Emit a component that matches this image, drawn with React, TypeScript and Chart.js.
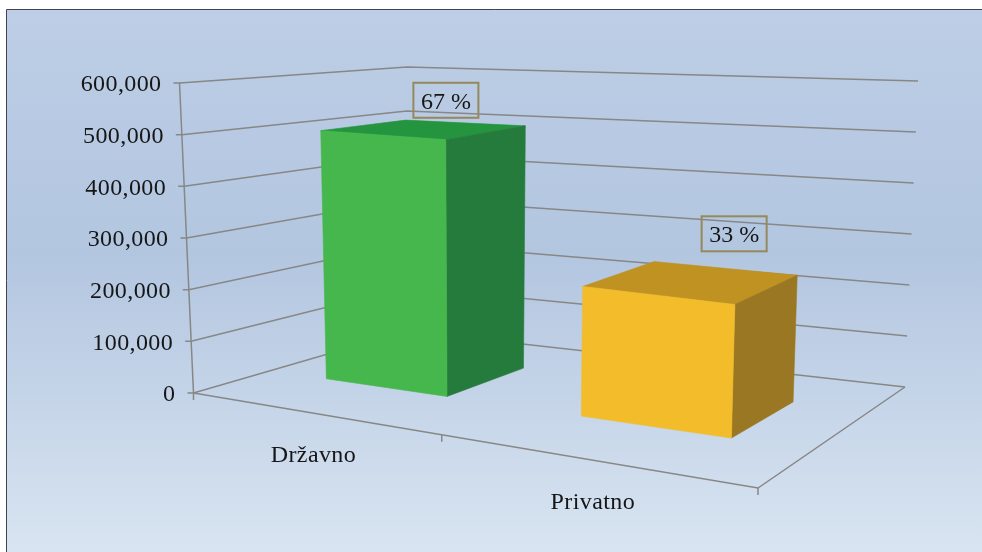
import React, { useEffect, useRef } from "react";
import { Chart, registerables } from "chart.js";

Chart.register(...registerables);

const categories = ["Državno", "Privatno"];
const values = [495000, 242000];
const shares = ["67 %", "33 %"];
const frontColors = ["#45b74c", "#f2bc2a"];
const sideColors = ["#257b3c", "#9a7722"];
const topColors = ["#24953e", "#bf9222"];

type Pt = [number, number];

// Perspective box of the plot: floor corners (front-left, front-right, back-right, back-left)
// and the full-height vector that rises from each of them.
const FLOOR: Pt[] = [[193.5, 393], [758, 488], [905, 387], [407, 331]];
const RISE: Pt[] = [[-14, -310], [10, -350], [13, -306], [0, -264]];
const BAR_DEPTH: Pt = [0.318, 0.708];
const LABEL_SHIFT: Pt[] = [[22, -28], [43, -47]];

function squareMap(q: Pt[]) {
  const [A, B, C, D] = q;
  const dx1 = B[0] - C[0], dx2 = D[0] - C[0], sx = A[0] - B[0] + C[0] - D[0];
  const dy1 = B[1] - C[1], dy2 = D[1] - C[1], sy = A[1] - B[1] + C[1] - D[1];
  const den = dx1 * dy2 - dx2 * dy1;
  const g = (sx * dy2 - dx2 * sy) / den;
  const h = (dx1 * sy - sx * dy1) / den;
  const a = B[0] - A[0] + g * B[0], b = D[0] - A[0] + h * D[0];
  const d = B[1] - A[1] + g * B[1], e = D[1] - A[1] + h * D[1];
  return (u: number, w: number): Pt => {
    const z = g * u + h * w + 1;
    return [(a * u + b * w + A[0]) / z, (d * u + e * w + A[1]) / z];
  };
}
const floorAt = squareMap(FLOOR);

function project(u: number, depth: number, v: number): Pt {
  const f = floorAt(u, depth);
  const [A, B, C, D] = RISE;
  const r = [0, 1].map(
    (k) => (1 - depth) * (A[k] + (B[k] - A[k]) * u) + depth * (D[k] + (C[k] - D[k]) * u)
  );
  return [f[0] + r[0] * v, f[1] + r[1] * v];
}

// From the library's scales to box coordinates
function toU(chart: any, px: number) {
  const a = chart.chartArea;
  const f = (px - a.left) / (a.right - a.left);
  return f + 0.07 * f * (1 - f);
}
function toV(chart: any, py: number) {
  const a = chart.chartArea;
  return (a.bottom - py) / (a.bottom - a.top);
}

function poly(ctx: CanvasRenderingContext2D, pts: Pt[], fill: string) {
  ctx.beginPath();
  pts.forEach((p, i) => (i ? ctx.lineTo(p[0], p[1]) : ctx.moveTo(p[0], p[1])));
  ctx.closePath();
  ctx.fillStyle = fill;
  ctx.fill();
  ctx.strokeStyle = fill;
  ctx.lineWidth = 0.6;
  ctx.stroke();
}
function path(ctx: CanvasRenderingContext2D, pts: Pt[]) {
  ctx.beginPath();
  pts.forEach((p, i) => (i ? ctx.lineTo(p[0], p[1]) : ctx.moveTo(p[0], p[1])));
  ctx.stroke();
}

const FONT = '24px "Liberation Serif", "Times New Roman", serif';
const TEXT = "#161616";
const GRID = "#878787";

const box3d = {
  id: "box3d",
  beforeDraw(chart: any) {
    const ctx: CanvasRenderingContext2D = chart.ctx;
    const w = chart.width, h = chart.height;
    ctx.save();
    ctx.fillStyle = "#ffffff";
    ctx.fillRect(0, 0, w, h);
    const g = ctx.createLinearGradient(0, 9, 0, h);
    g.addColorStop(0, "#bdcee6");
    g.addColorStop(0.45, "#b3c6e0");
    g.addColorStop(1, "#d8e4f1");
    ctx.fillStyle = g;
    ctx.fillRect(7, 9, w - 7, h - 9);
    ctx.strokeStyle = "#3f4450";
    ctx.lineWidth = 1;
    ctx.beginPath();
    ctx.moveTo(6.5, h);
    ctx.lineTo(6.5, 9.5);
    ctx.lineTo(w, 9.5);
    ctx.stroke();

    // walls, gridlines and axis ticks
    ctx.strokeStyle = GRID;
    ctx.lineWidth = 1.5;
    const yScale = chart.scales.y;
    for (const t of yScale.ticks) {
      const v = toV(chart, yScale.getPixelForValue(t.value));
      const front = project(0, 0, v);
      path(ctx, [[front[0] - 6, front[1]], front, project(0, 1, v), project(1, 1, v)]);
    }
    path(ctx, [project(0, 0, 0), project(0, 0, 1)]);
    path(ctx, [project(0, 0, 0), project(1, 0, 0), project(1, 1, 0)]);

    // category ticks on the front edge
    const xScale = chart.scales.x;
    const a = chart.chartArea;
    const marks = [a.left, (xScale.getPixelForValue(0) + xScale.getPixelForValue(1)) / 2, a.right];
    for (const m of marks) {
      const p = project(toU(chart, m), 0, 0);
      path(ctx, [p, [p[0], p[1] + 7]]);
    }

    // axis text
    ctx.fillStyle = TEXT;
    ctx.font = FONT;
    ctx.textBaseline = "middle";
    ctx.textAlign = "right";
    (ctx as any).letterSpacing = "0.4px";
    for (const t of yScale.ticks) {
      const v = toV(chart, yScale.getPixelForValue(t.value));
      const p = project(0, 0, v);
      ctx.fillText(String(t.label), p[0] - 18, p[1] + 2);
    }
    ctx.textAlign = "center";
    categories.forEach((c, i) => {
      const p = project(toU(chart, xScale.getPixelForValue(i)), 0, 0);
      ctx.fillText(c, p[0] + 3, p[1] + 43);
    });
    ctx.restore();
  },
  beforeDatasetDraw(chart: any, args: any) {
    const ctx: CanvasRenderingContext2D = chart.ctx;
    ctx.save();
    const bars = args.meta.data;
    bars.forEach((bar: any, i: number) => {
      const u0 = toU(chart, bar.x - bar.width / 2);
      const u1 = toU(chart, bar.x + bar.width / 2);
      const v = toV(chart, bar.y);
      const [d0, d1] = BAR_DEPTH;
      poly(ctx, [project(u0, d0, v), project(u1, d0, v), project(u1, d1, v), project(u0, d1, v)], topColors[i]);
      poly(ctx, [project(u1, d0, 0), project(u1, d1, 0), project(u1, d1, v), project(u1, d0, v)], sideColors[i]);
      poly(ctx, [project(u0, d0, 0), project(u1, d0, 0), project(u1, d0, v), project(u0, d0, v)], frontColors[i]);

      // share labels, boxed
      const c = project((u0 + u1) / 2, (d0 + d1) / 2, v);
      const x = c[0] + LABEL_SHIFT[i][0], y = c[1] + LABEL_SHIFT[i][1];
      ctx.font = FONT;
      ctx.textAlign = "center";
      ctx.textBaseline = "middle";
      ctx.strokeStyle = "#95895c";
      ctx.lineWidth = 2;
      ctx.strokeRect(x - 32.5, y - 17.5, 65, 35);
      ctx.fillStyle = TEXT;
      ctx.fillText(shares[i], x, y + 2);
    });
    ctx.restore();
    return false;
  },
};

export default function App() {
  const ref = useRef<HTMLCanvasElement>(null);
  useEffect(() => {
    const chart = new Chart(ref.current!, {
      type: "bar",
      data: {
        labels: categories,
        datasets: [
          {
            data: values,
            backgroundColor: frontColors,
            barPercentage: 0.5,
            categoryPercentage: 1,
          },
        ],
      },
      options: {
        responsive: false,
        animation: false,
        plugins: { legend: { display: false }, tooltip: { enabled: false } },
        scales: {
          x: { display: false },
          y: {
            display: false,
            min: 0,
            max: 600000,
            ticks: {
              stepSize: 100000,
              callback: (v: any) => Number(v).toLocaleString("en-US"),
            },
          },
        },
      },
      plugins: [box3d],
    } as any);
    return () => chart.destroy();
  }, []);
  return (
    <div style={{ position: "absolute", left: 0, top: 0, width: 982, height: 552 }}>
      <canvas ref={ref} width={982} height={552} style={{ display: "block" }} />
    </div>
  );
}
